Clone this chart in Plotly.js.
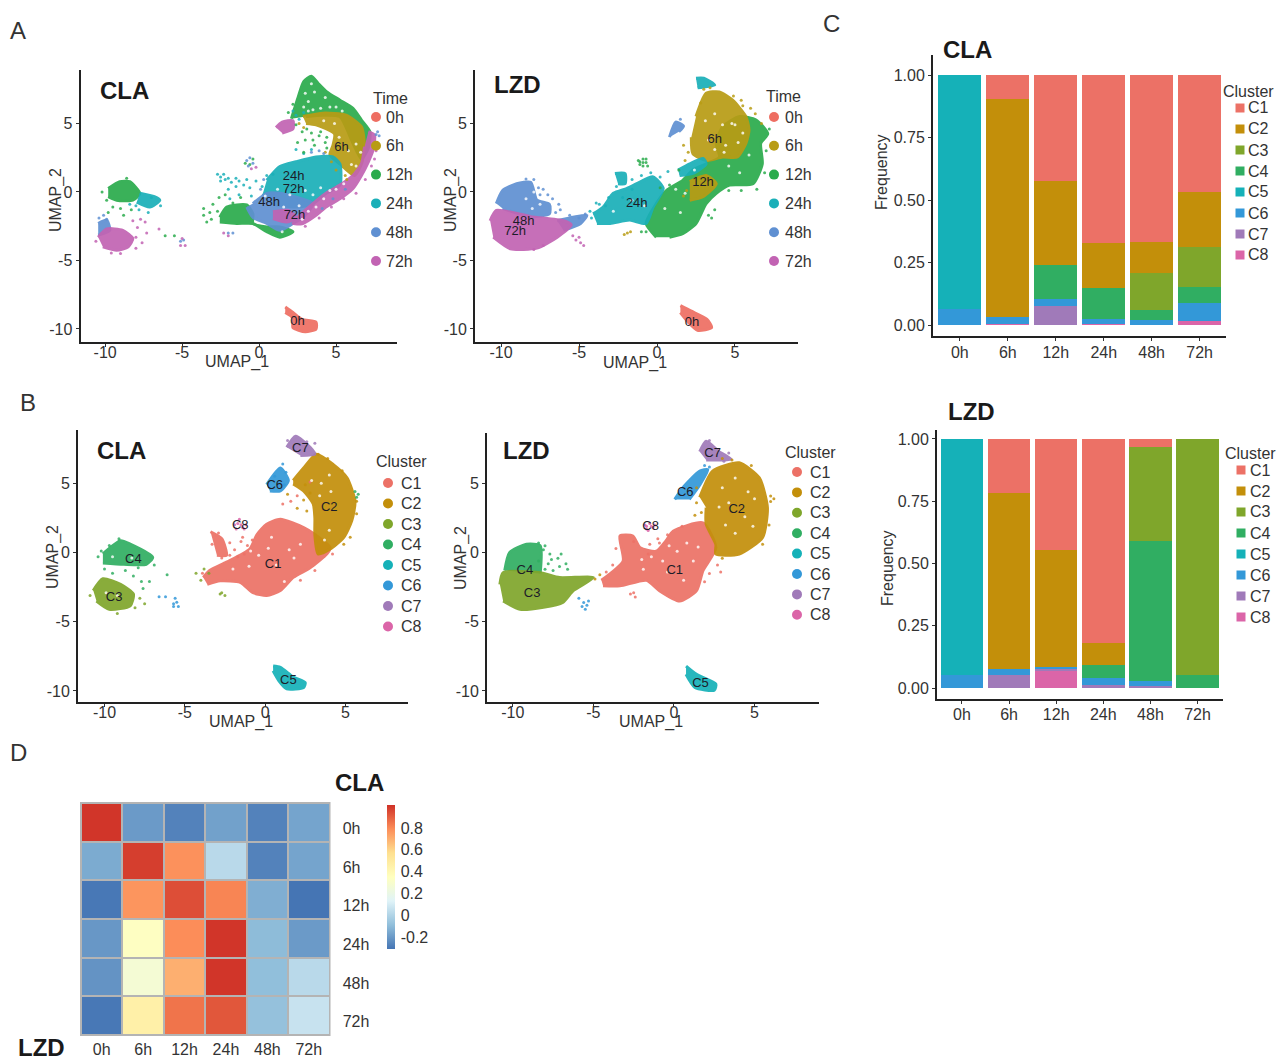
<!DOCTYPE html>
<html><head><meta charset="utf-8">
<script src="https://cdn.plot.ly/plotly-3.0.1.min.js"></script>
<style>html,body{margin:0;padding:0;background:#fff}#chart{width:1279px;height:1058px}</style>
</head><body><div id="chart"></div>
<script>
// ---------- categories ----------
const timeLabels=['0h','6h','12h','24h','48h','72h'];
const clusterLabels=['C1','C2','C3','C4','C5','C6','C7','C8'];
const timeColors={'0h':'#ee6e62','6h':'#b89c14','12h':'#2aab4c','24h':'#1aafb8','48h':'#5f90d2','72h':'#c263b3'};
const clusterColors={C1:'#ec7166',C2:'#c38f0a',C3:'#7fa62b',C4:'#30ae62',C5:'#15b1b8',C6:'#3398d8',C7:'#a07ab9',C8:'#db65a8'};

// ---------- stacked frequencies (panel C) ----------
const claFreq={C8:[0,.003,0,.005,.002,.016],C7:[0,0,.077,0,0,0],C6:[.063,.03,.026,.018,.018,.073],C5:[.937,0,0,0,0,0],
 C4:[0,0,.138,.126,.039,.063],C3:[0,0,0,0,.15,.159],C2:[0,.871,.336,.178,.122,.221],C1:[0,.096,.423,.673,.669,.468]};
const lzdFreq={C8:[0,0,.067,0,0,0],C7:[0,.054,.008,.013,.007,0],C6:[.051,.021,.01,.027,.023,0],C5:[.949,0,0,0,0,0],
 C4:[0,0,0,.054,.56,.051],C3:[0,0,0,0,.379,.949],C2:[0,.71,.471,.085,0,0],C1:[0,.215,.444,.821,.031,0]};

// ---------- correlation matrix (panel D), rows LZD, columns CLA ----------
const corrMatrix=[[1,-.2,-.27,-.18,-.27,-.17],[-.15,.98,.78,.02,-.27,-.17],[-.3,.77,.94,.81,-.14,-.31],
 [-.21,.34,.79,1,-.1,-.2],[-.22,.27,.7,1,-.09,.02],[-.3,.46,.85,.92,-.08,.06]];
const corrScale=[[0,'#4575b4'],[1/6,'#91bfdb'],[2/6,'#e0f3f8'],[3/6,'#ffffbf'],[4/6,'#fee090'],[5/6,'#fc8d59'],[1,'#cf3127']];
const umapTicks=[-10,-5,0,5], umapTickText=['-10','-5','0','5'];

// ---------- UMAP regions: [colour key, outline] ----------
const aClaRegions=[
['12h',[[2.1,5.35],[2.55,6.95],[2.9,8.05],[3.4,8.45],[3.85,7.9],[4.4,7.3],[5.25,6.7],[6.1,6.1],[6.65,5.25],[7.2,4.4],[7.1,3.2],[6.65,2.4],[6.1,3.55],[5.25,5.5],[4.15,5.6],[3.05,5.5]]],
['6h',[[2.85,5.5],[4.15,5.75],[5.65,5.6],[6.65,4.75],[6.85,3.3],[6.65,2.05],[6.2,1.2],[5.25,2.05],[4.6,2.7],[4.8,3.4],[4.9,4.25],[3.7,4.9],[3.05,5]]],
['24h',[[.5,.85],[1.35,1.85],[2.4,2.2],[3.7,2.55],[4.8,2.55],[5.25,2.05],[5.25,.5],[4.35,-.1],[3.5,-.85],[2.65,-1.1],[.9,-.85],[.25,-.1]]],
['12h',[[-2.55,-1.85],[-2.1,-1.1],[-.8,-.95],[-.4,-1.6],[-.4,-2.3],[.5,-2.55],[1.35,-2.55],[2.2,-2.9],[1.35,-3.3],[.5,-2.9],[-.4,-2.3],[-1.45,-2.3],[-2.55,-2.2]]],
['48h',[[-.4,-.85],[.5,-.1],[1.35,-.1],[3.5,-.85],[2.85,-1.85],[2.2,-2.3],[1.35,-2.8],[.5,-2.3],[-.4,-1.85],[-.8,-1.1]]],
['72h',[[7.1,4.4],[7.5,4.15],[7.4,3.05],[7.1,2.2],[6.65,1.2],[6.1,.25],[5.25,-.5],[4.35,-1.1],[3.7,-1.7],[2.85,-2.3],[2.2,-2.3],[2.65,-1.7],[3.5,-.85],[4.35,-.1],[5.25,.5],[6.1,1.2],[6.65,2.05],[6.85,3.3]]],
['72h',[[.9,-1.45],[1.9,-1.35],[2.4,-1.85],[1.8,-2.2],[.9,-1.95]]],
['72h',[[1.1,4.7],[1.5,5.1],[2.2,5.2],[2.2,4.6],[1.5,4.3]]],
['12h',[[-9.8,.25],[-9.05,.75],[-8.4,.75],[-7.75,-.1],[-8.2,-.6],[-9.25,-.6],[-9.8,-.35]]],
['24h',[[-7.75,-.1],[-6.8,-.35],[-6.45,-.6],[-7.1,-1.1],[-7.95,-.75]]],
['48h',[[-10.45,-2.3],[-9.9,-2.05],[-9.7,-2.8],[-10.45,-3.15]]],
['72h',[[-10.45,-3.3],[-9.9,-2.7],[-8.85,-2.8],[-8.2,-3.4],[-8.5,-4],[-9.25,-4.25],[-10.15,-4]]],
['0h',[[1.7,-8.4],[2.2,-8.8],[2.8,-9.3],[3.7,-9.5],[3.7,-10.0],[3.0,-10.2],[2.2,-9.9],[2.2,-9.2],[1.7,-8.8]]]];
const aLzdRegions=[
['12h',[[-.05,-3.3],[-.7,-2.3],[-.05,-.85],[.6,.1],[1.65,.85],[2.3,1.6],[3.15,2.05],[4,2.55],[3.8,3.55],[4.2,4.75],[5.3,5.5],[6.35,5.25],[7.1,4.25],[6.65,3.55],[6.75,2.05],[6.15,.6],[4.65,.5],[3.8,-.1],[3.15,-.85],[2.5,-2.3],[1.65,-3.05],[.8,-3.3]]],
['6h',[[2.5,5.5],[3.15,7.2],[4,7.3],[4.85,6.7],[5.7,5.5],[5.9,4.5],[5.7,3.55],[5.15,2.55],[4.2,2.55],[3.15,2.3],[2.3,2.8],[2.2,4]]],
['6h',[[2.1,.75],[3.15,1.2],[3.8,.6],[2.95,-.35],[2.1,-.6]]],
['24h',[[-4.1,-1.6],[-3.45,-1.1],[-2.8,-.1],[-1.95,.25],[-1.3,.6],[-.25,1.1],[.4,.25],[-.25,-1.1],[-.7,-2.3],[-1.75,-2.05],[-3,-2.3],[-3.85,-2.3]]],
['24h',[[-2.7,1.35],[-2.05,1.35],[-2.05,.6],[-2.5,.6]]],
['24h',[[1.35,1.6],[2.1,2.05],[2.95,2.45],[3.15,2.05],[2.3,1.35],[1.45,1.2]]],
['24h',[[2.5,8.3],[3.0,8.3],[3.7,7.8],[3.2,7.7],[2.6,7.6]]],
['48h',[[.8,4],[1.2,5.1],[1.7,4.8],[1.4,4.4]]],
['48h',[[-10.3,-.85],[-9.9,.1],[-9,.6],[-8.1,.7],[-7.7,-.6],[-6.9,-.9],[-6.9,-1.6],[-8.1,-1.8],[-9.9,-1.2]]],
['48h',[[-6.4,-2.1],[-4.5,-1.7],[-4.9,-2.3],[-6,-2.8]]],
['72h',[[-10.7,-2.1],[-10.3,-1.35],[-8.1,-1.8],[-6,-2.1],[-5.5,-2.4],[-6.4,-3.3],[-7.7,-4.1],[-9.4,-4.15],[-10.5,-3.3]]],
['0h',[[1.5,-8.3],[2.2,-8.7],[3.2,-9.3],[3.5,-9.9],[2.6,-10.1],[2.0,-9.5],[1.5,-8.8]]]];
const bClaRegions=[
['C1',[[-3.85,-1.8],[-3.45,-1.3],[-2.4,-.7],[-.95,.25],[-.5,1.3],[.1,2.05],[.95,2.4],[2.4,1.8],[3.1,1.3],[4.05,.35],[3.85,-.1],[2.8,-1.1],[1.75,-1.8],[.95,-2.75],[.1,-3.1],[-.75,-2.9],[-1.55,-2.15],[-2.8,-2.05],[-3.6,-2.3]]],
['C1',[[-3.4,1.5],[-2.7,1],[-2.4,-.2],[-3,-.2]]],
['C2',[[1.75,5.2],[2.4,6.1],[3.2,7.1],[4.25,6.35],[5.1,5.4],[5.6,3.7],[5.4,2.3],[4.9,1.1],[4.05,.25],[3.3,-.1],[3.1,1.3],[3.1,2.5],[3,3.5],[2.4,4.45],[1.75,4.95]]],
['C7',[[1.35,7.6],[1.9,8.4],[2.8,7.6],[3.1,7.1],[2.2,7.0]]],
['C6',[[.1,4.9],[.95,6.1],[1.45,5.2],[.95,4.45],[.3,4.45]]],
['C4',[[-10.1,-.1],[-9,.85],[-8.4,.6],[-7,-.35],[-7.4,-.85],[-8.8,-.85],[-10.1,-.75]]],
['C3',[[-10.7,-2.75],[-10.1,-1.9],[-9,-2.3],[-8.2,-3],[-8.4,-3.85],[-9.7,-4.1],[-10.5,-3.5]]],
['C5',[[.5,-8.2],[.95,-8.3],[1.75,-9],[2.5,-9.4],[2.4,-9.75],[1.35,-9.85],[.85,-9.25],[.5,-8.55]]]];
const bLzdRegions=[
['C1',[[-4.5,-2],[-3.15,-.6],[-3.35,1.2],[-2.55,1.2],[-2.1,.35],[-1.1,.1],[-.5,.85],[-.05,1.55],[1.8,2.15],[2.6,.35],[1.8,-1.3],[1.4,-2.75],[.35,-3.5],[-.9,-2.75],[-1.7,-2],[-3.35,-2.4],[-4.4,-2.4]]],
['C2',[[1.6,4],[2.4,5.9],[4.05,6.5],[5.3,5.4],[5.8,3.25],[5.5,1.1],[4.05,-.1],[2.6,-.1],[2.6,.6],[2,2.05],[2,3.25]]],
['C4',[[-10.5,-1.3],[-10.2,0],[-9.15,.6],[-8.3,.5],[-8.3,-1.5]]],
['C3',[[-10.8,-2.3],[-10.6,-1.45],[-8.3,-1.45],[-7.1,-1.8],[-5,-1.8],[-6.25,-2.75],[-6.9,-3.6],[-8.1,-3.95],[-9.55,-4.1],[-10.6,-3.5]]],
['C7',[[1.6,7.3],[2,8.05],[2.8,7.3],[3.55,6.75],[2.6,6.7],[2,6.7]]],
['C6',[[.05,3.85],[.55,4.7],[1.6,5.9],[2.1,6],[1.6,4.9],[.95,3.85]]],
['C5',[[.75,-8.2],[1.4,-8.8],[2.6,-9.5],[2.5,-9.95],[1.3,-9.75],[.75,-8.8]]]];

// ---------- scattered cells: [colour key, points] ----------
const aClaSpecks=[
['24h',[[-2.7,1.3],[-2.5,1.1],[-2.3,1.3],[-2.2,.9],[-2.5,.8],[-2,1],[-1.8,.7],[-1.5,1],[-1.3,.8],[-1,.5],[-1.5,.4],[-2,.2],[-.8,.9],[-.6,.3],[-1.3,-.2],[-1.9,-.5],[-.5,-.3],[.2,.4],[-.2,.8],[2.4,5.6],[2.2,5.9],[2.6,5.3],[2.9,5.8],[-8.4,-.9],[-7.8,-1.3],[-7.2,-1.5],[-7,-.4],[-8,-1],[-6.4,-1],[2.4,3.1],[2.9,2.8],[3.4,3.1],[.9,1.3],[.5,1.2]]],
['12h',[[-3.6,-1.2],[-3.6,-1.7],[-3.4,-2.2],[-3.2,-1.5],[-3.1,-2],[-2.7,-1.4],[-3,-.9],[-2.6,-.4],[-2.2,-.2],[-1.7,-.8],[-1.2,-.4],[-9.5,-1.1],[-9,-1.2],[-9.8,-1.5],[-8.8,-1.7],[-8.3,-1.3],[-5.5,-3.2],[-6.1,-3.2],[-.6,2],[-.9,2.1],[-.4,2.4],[3.4,4.3],[3.9,4.1],[3,3.8],[4.3,3.6],[3.6,3.4],[2.8,4.4],[2.5,3.6],[3.1,4.6],[3.5,3.8],[4,4.4],[4.4,4],[2.9,2.9],[4.4,3.2],[-9.9,-.6],[-10.2,0],[-8.6,1],[2.4,4.9],[1.9,5.8],[2.2,6.4]]],
['6h',[[5.6,1.2],[5,1.6],[5.7,.9],[4.3,2.9],[4.7,2.2],[2.6,5],[2.9,4.7]]],
['48h',[[-.8,2.3],[-.6,2.5],[-.4,2.1],[-.7,1.9],[-5.1,-3.6],[-4.9,-3.5],[-10.4,-1.9],[-10.1,-1.7],[-9.9,-2],[7.6,4.2],[7.8,4.1],[7.7,4.4],[-2,-3],[-1.7,-3],[3.9,3],[3.4,2.9],[4.2,2.8],[5.6,.2],[4.8,-.5],[4.1,-1.2],[.3,.9],[.1,.2]]],
['72h',[[-5,-3.4],[-4.8,-3.9],[-5.1,-3.9],[-.5,1.7],[-.2,1.8],[-8.2,-2.1],[-7.7,-2],[-7.4,-2.2],[-7.9,-2.6],[-7.3,-3],[-8,-3.3],[-7.6,-3.7],[-2.3,-3],[-2,-3.2],[-6.5,-2.7],[7.3,1.9],[6.9,.9],[6.3,-.1],[5.5,-.5],[4.7,-1.1],[3.9,-1.9],[3,-2.5],[7.6,3],[7.5,2.4],[-10.6,-3.6],[-8,-4.1],[-9,-4.5],[-9.6,-4.45]]],
['white',[[3.5,6],[4,6.1],[4.6,6.2],[3.2,6.6],[3,7.2],[3.6,7.3],[4.3,6.9],[5,6.2],[5.4,5.9],[4.2,5.2],[4.9,5],[6.3,3.5],[5.8,3],[6,2],[5.2,4],[1.2,.2],[2,-.2],[3,.1],[3.5,-.2],[4,.3],[2.6,-1],[1.6,-1.1],[.4,-.3],[4.6,.1],[5,.2],[3.2,-1.4],[4.2,-.5],[5.5,.6],[3.7,-1.1],[2.8,-2],[1.5,-2.9],[6.3,1.9],[6.6,2.9],[3.4,7.9],[2.9,6.2],[3.2,5.9]]]];
const aLzdSpecks=[
['24h',[[-2.6,.4],[-2.2,-.4],[-1.6,.9],[-1,1.2],[-.4,1.4],[.2,1.1],[.7,1.5],[-1.6,.2],[-3.7,-.9],[-3.3,-1.0],[-4.2,-1.9],[-4.3,-1.4],[-3.9,-.8],[-3.1,-.4]]],
['12h',[[.8,.5],[1.4,1.6],[.2,.3],[3.3,-1.7],[3.7,-1.3],[3.5,-1.9],[-.9,2.4],[-1.1,2.2],[-.9,1.9],[-.7,2.15],[-.9,2.15],[-1.1,2],[-.7,2.4],[-1.2,2.3],[-.6,1.9],[7.2,4.6],[7,3],[6.9,1.4],[6.4,.2],[5.4,.1],[4.6,.1],[-1,-2.9],[-.7,-2.9]]],
['48h',[[-7.3,.2],[-7,-.2],[-7.6,.3],[-6.7,-.5],[-6.3,-.9],[-6.5,-1.5],[-5.6,-1.7],[-5,-1.9],[-4.6,-1.6],[1.5,5.3],[-8.4,.95],[-7.9,.9],[-7.5,-.2],[-6.2,-1.3]]],
['6h',[[-1.9,-3],[-2.1,-3.1],[-1.7,-2.9],[2.8,6.5],[3.4,7.6],[3,7.5],[1.7,3.4],[2,2.9],[1.8,2.3],[6.7,5],[6,6.1],[5.5,6.3],[4.9,7],[5.4,6.7],[6.3,5.7],[1.9,.1],[1.7,-.3]]],
['72h',[[-5.2,-3.5],[-5,-3.3],[-4.9,-3.7],[-5.4,-3.2],[-4.7,-3.9],[-7.9,-4.2],[-7.3,-3.9]]],
['white',[[4.2,4.9],[3.3,3.8],[4.4,3.4],[5.2,3.6],[3.1,5.2],[5.5,4.3],[3.7,5.7],[4.8,5],[4.3,2.9],[5.9,2.7],[5.3,1.4],[4.6,1.9],[2.4,1.6],[1.2,.2],[.5,-1.2],[1.5,-1.5],[-.8,-1],[-1.6,-.6],[-2.8,-1.4],[1.8,-.1],[3.7,3.1],[5,4.9],[-7.9,0],[-7.5,-.9],[-8,-1.2],[-8.4,-.5]]]];
const bClaSpecks=[
['C1',[[-2.9,1.4],[-2.2,.7],[-1.9,.2],[-1.5,.8],[-1.1,.5],[-.8,.9],[-1.4,1.1],[-3.3,.6],[-1.7,-.3],[-2.2,-.2],[2.8,5.1],[2,4.1],[1.6,3.7],[1.1,3.5],[-1.3,-.1],[-2.7,-.4],[-3.9,-1.5],[3.1,-1.3],[2.2,-2],[4.2,-.1]]],
['C2',[[1.4,4.2],[2,3.2],[2.4,3.8],[2.6,3],[3.3,7.1],[5.7,2.8],[5.3,1.1],[2.5,4.9],[2.8,4.3],[4.9,.6],[5.7,3.7],[4.8,5.9],[3.9,6.8]]],
['C3',[[-4.3,-1.5],[-4,-2],[-3.8,-1.2],[-3.5,-1.5],[-2.8,-3],[-2.5,-3.1],[-2.7,-2.9],[-7.8,-3.3],[-7.5,-3.7],[-10.9,-3.1],[-9.2,-4.4],[-8.1,-4]]],
['C4',[[-10,-1.2],[-9.5,-1.5],[-8.7,-1.3],[-8.2,-1.7],[-7.9,-1.1],[-7.7,-2.1],[-7.2,-2.1],[-7.6,-2.6],[-10.2,.1],[5.6,4.4],[5.8,4.2],[5.7,4],[-6.1,-1.6],[-9.7,.5],[-10.4,-.3],[-9.1,1],[-6.9,-.9]]],
['C6',[[-5.6,-3.3],[-5.7,-3.7],[-5.5,-3.6],[-5.4,-3.9],[-5.7,-3.9],[-6.2,-3.2],[-6.6,-3.2],[1.1,6.4],[1.3,5.8],[.6,5.5],[1.2,4.9]]],
['C8',[[-1.9,2],[-1.6,2.4],[-1.3,1.7],[-1.5,2],[-1.8,1.7],[-1.2,2],[-1.7,2.1],[-1.4,1.8]]],
['C7',[[3.1,7.9],[1.4,8.1],[2.6,8]]],
['white',[[.2,.3],[1.5,.2],[-.4,-.2],[.7,-.9],[1.8,-.4],[-1,-1],[.4,1.1],[2.2,.6],[-.9,.1],[3.5,5],[4.1,4.4],[3.4,4.1],[2.9,5.2],[4,5.6],[4,1.6],[3.7,.9],[-9.5,-.3],[-8.3,-.4],[-9.2,-3.1],[-9.9,-2.9],[1.2,-2.1],[-2,-1.2]]]];
const bLzdSpecks=[
['C1',[[-2.5,.8],[-1.5,.6],[-1,1],[-.4,1.3],[.5,1.9],[2.2,-1.5],[2.7,-.9],[2.9,-1.4],[-3.6,.3],[-2.7,-3],[-2.4,-3.2],[-2.5,-2.9],[-3.8,-.9],[-4.2,-1.4],[1.9,-2.1],[-1.6,-.1],[-.9,.7]]],
['C2',[[1.4,3.6],[1.7,2.9],[1.3,2.7],[6,3.7],[6.2,3.9],[6,4.1],[3,6.8],[3.6,6.7],[-4.6,-1.6],[-4.9,-1.9],[5.9,2],[5.5,.6],[4.8,6.3],[1.4,4.7],[3,-.4]]],
['C4',[[-8.1,.2],[-7.7,-.1],[-7.2,-.4],[-7.8,-.8],[-7.1,-1],[-6.7,-.8],[-7.5,-1.3],[-6.6,-1.2],[-8,-1.2],[-8.4,-.6],[-7,-.1],[-8.4,.7],[-8,.5],[-7.6,-.5]]],
['C6',[[-5.9,-3.3],[-5.6,-3.6],[-5.4,-3.8],[-5.7,-3.9],[-5.3,-3.5],[-5.5,-4.1],[2.2,6.2],[1.9,6.3]]],
['C8',[[-1.7,1.9],[-1.5,2.1],[-1.3,1.8],[-1.6,1.6],[-1.2,2],[-1.4,1.9],[-1.7,1.7],[-1.8,2]]],
['C7',[[2.2,8.1],[3.1,6.6],[3.4,7.2]]],
['white',[[-2,-.5],[-1.4,-.3],[-.7,-.6],[.2,.1],[-.4,-1.4],[.8,.7],[1.5,.4],[-1.9,-1.2],[.6,-2],[1.2,-.6],[-.3,.5],[3,4.7],[3.8,5.4],[4.6,4.4],[3.4,3.6],[4.4,2.6],[5,3.9],[2.8,3.3],[3.8,1.4],[4.9,1.9],[3.2,2],[-8,-.7],[-7.4,-.7]]]];

// ---------- text labels placed on the clusters ----------
const aClaText={x:[5.35,2.25,2.25,.65,2.3,2.5],y:[3.2,1.1,.15,-.8,-1.7,-9.45],t:['6h','24h','72h','48h','72h','0h']};
const aLzdText={x:[3.7,2.95,-1.3,-8.55,-9.1,2.25],y:[3.8,.65,-.85,-2.15,-2.9,-9.55],t:['6h','12h','24h','48h','72h','0h']};
const bClaText={x:[2.2,.6,4,-1.55,.5,-8.2,-9.4,1.45],y:[7.5,4.85,3.2,1.9,-.85,-.5,-3.3,-9.3],t:['C7','C6','C2','C8','C1','C4','C3','C5']};
const bLzdText={x:[2.4,.7,3.9,-1.45,.05,-9.25,-8.8,1.65],y:[7.15,4.3,3.1,1.85,-1.3,-1.3,-3,-9.5],t:['C7','C6','C2','C8','C1','C4','C3','C5']};

// ---------- page helpers ----------
const W=1279,H=1058,FONT='"Liberation Sans",Arial,sans-serif',INK='#333333';
const px=x=>x/W, py=y=>1-y/H;
const traces=[],annotations=[],shapes=[];
const allColors=Object.assign({white:'#ffffff'},timeColors,clusterColors);

function umapPanel(n,regions,specks,labels){
  const xa='x'+(n===1?'':n), ya='y'+(n===1?'':n);
  regions.forEach(([k,poly])=>traces.push({type:'scatter',mode:'lines',xaxis:xa,yaxis:ya,showlegend:false,hoverinfo:'skip',
    x:poly.map(p=>p[0]),y:poly.map(p=>p[1]),fill:'toself',fillcolor:allColors[k],opacity:.92,
    line:{color:allColors[k],width:3,shape:'spline',smoothing:.6}}));
  specks.forEach(([k,pts])=>traces.push({type:'scatter',mode:'markers',xaxis:xa,yaxis:ya,showlegend:false,hoverinfo:'skip',
    x:pts.map(p=>p[0]),y:pts.map(p=>p[1]),marker:{color:allColors[k],size:3,opacity:k==='white'?.8:.85}}));
  traces.push({type:'scatter',mode:'text',xaxis:xa,yaxis:ya,showlegend:false,hoverinfo:'skip',x:labels.x,y:labels.y,text:labels.t,
    textposition:'middle center',textfont:{family:FONT,size:13,color:'#1c1c28'}});
}
umapPanel(1,aClaRegions,aClaSpecks,aClaText);
umapPanel(2,aLzdRegions,aLzdSpecks,aLzdText);
umapPanel(3,bClaRegions,bClaSpecks,bClaText);
umapPanel(4,bLzdRegions,bLzdSpecks,bLzdText);

function barPanel(n,freq){
  ['C8','C7','C6','C5','C4','C3','C2','C1'].forEach(c=>traces.push({type:'bar',xaxis:'x'+n,yaxis:'y'+n,name:c,showlegend:false,
    x:timeLabels,y:freq[c],width:.9,marker:{color:clusterColors[c],line:{width:0}}}));
}
barPanel(5,claFreq);
barPanel(6,lzdFreq);

traces.push({type:'heatmap',xaxis:'x7',yaxis:'y7',x:timeLabels,y:timeLabels,z:corrMatrix,xgap:2,ygap:2,zmin:-.31,zmax:1.01,colorscale:corrScale,
  colorbar:{thickness:8,thicknessmode:'pixels',len:144,lenmode:'pixels',x:px(387),xanchor:'left',xpad:0,ypad:0,y:py(805),yanchor:'top',
    tickvals:[-.2,0,.2,.4,.6,.8],ticktext:['-0.2','0','0.2','0.4','0.6','0.8'],ticks:'outside',ticklen:3,tickcolor:'rgba(0,0,0,0)',
    outlinewidth:0,tickfont:{family:FONT,size:16,color:INK}}});

// ---------- axes ----------
const layout={width:W,height:H,margin:{l:0,r:0,t:0,b:0},paper_bgcolor:'#fff',plot_bgcolor:'rgba(0,0,0,0)',barmode:'stack',showlegend:false,
  font:{family:FONT,size:16,color:INK}};
function axes(n,box,xr,yr,extraX,extraY){
  const s=n===1?'':n;
  const common={showgrid:false,zeroline:false,showline:true,linecolor:'#222',linewidth:2,ticks:'outside',ticklen:3,tickwidth:1,tickcolor:'#333',
    tickfont:{family:FONT,size:16,color:INK}};
  layout['xaxis'+s]=Object.assign({},common,{domain:[px(box[0]),px(box[2])],range:xr,anchor:'y'+s},extraX);
  layout['yaxis'+s]=Object.assign({},common,{domain:[py(box[3]),py(box[1])],range:yr,anchor:'x'+s},extraY);
}
const umapX={tickvals:umapTicks,ticktext:umapTickText,ticklabelstandoff:-8}, umapY={tickvals:umapTicks,ticktext:umapTickText};
axes(1,[80.5,70,397,342],[-11.6,8.96],[-10.95,8.9],umapX,umapY);
axes(2,[475,70,798,342],[-11.67,9.04],[-10.95,8.9],umapX,umapY);
axes(3,[78,430,408,702],[-11.65,8.9],[-10.8,8.85],umapX,umapY);
axes(4,[487,433,819,702],[-11.6,9],[-10.8,8.65],umapX,umapY);
const catX={type:'category',categoryorder:'array',categoryarray:timeLabels};
const freqY={tickvals:[0,.25,.5,.75,1],tickformat:'.2f'};
axes(5,[933,55,1226,336],[-.56,5.55],[-.044,1.08],Object.assign({ticklabelstandoff:-2},catX),freqY);
axes(6,[937,430,1223,699],[-.53,5.54],[-.044,1.036],Object.assign({ticklabelstandoff:-3},catX),freqY);
axes(7,[81,803,329.5,1035],[-.5,5.5],[5.5,-.5],
  Object.assign({},catX,{showline:false,ticks:'outside',ticklen:0,tickcolor:'rgba(0,0,0,0)',ticklabelstandoff:0}),
  {type:'category',categoryorder:'array',categoryarray:timeLabels,side:'right',showline:false,ticks:'outside',ticklen:9,tickcolor:'rgba(0,0,0,0)',ticklabelshift:-6});
shapes.push({type:'rect',xref:'paper',yref:'paper',layer:'below',x0:px(80),x1:px(330.5),y0:py(802),y1:py(1036),fillcolor:'#b4b4b4',line:{width:0}});

// ---------- text and hand-drawn keys ----------
function note(text,x,y,size,bold,anchor,angle){
  annotations.push({xref:'paper',yref:'paper',x:px(x),y:py(y),text:bold?'<b>'+text+'</b>':text,showarrow:false,
    xanchor:anchor||'left',yanchor:'middle',borderpad:0,borderwidth:0,textangle:angle||0,font:{family:FONT,size:size,color:bold?'#1a1a1a':INK}});
}
[['A',10,30],['B',20,402],['C',823,24],['D',10,752]].forEach(a=>note(a[0],a[1],a[2],24,false));
[['CLA',100,90],['LZD',494,85],['CLA',97,451],['LZD',503,450],['CLA',943,49],['LZD',948,412],['CLA',335,782],['LZD',18,1047]]
  .forEach(a=>note(a[0],a[1],a[2],24,true));
[[237,362],[635,363],[241,722],[651,722]].forEach(a=>note('UMAP_1',a[0],a[1],16,false,'center'));
[[56,200],[451,200],[53,557],[461,558]].forEach(a=>note('UMAP_2',a[0],a[1],16,false,'center',-90));
[[881,172],[887,568]].forEach(a=>note('Frequency',a[0],a[1],16,false,'center',-90));

function key(title,labels,colors,tx,ty,kx,lx,y0,dy,square){
  note(title,tx,ty,16);
  labels.forEach((l,i)=>{
    const y=y0+i*dy, r=square?4.5:5;
    shapes.push({type:square?'rect':'circle',xref:'paper',yref:'paper',x0:px(kx-r),x1:px(kx+r),y0:py(y+r),y1:py(y-r),fillcolor:colors[l],line:{width:0}});
    note(l,lx,y,16);
  });
}
key('Time',timeLabels,timeColors,373,98,376,386,117,28.8);
key('Time',timeLabels,timeColors,766,97,774,785,117,28.8);
key('Cluster',clusterLabels,clusterColors,376,461,388,401,483,20.5);
key('Cluster',clusterLabels,clusterColors,785,452,797,810,472,20.4);
key('Cluster',clusterLabels,clusterColors,1223,91,1240,1248,108,21,true);
key('Cluster',clusterLabels,clusterColors,1225,453,1241,1250,470,21,true);
layout.annotations=annotations;layout.shapes=shapes;
Plotly.newPlot('chart',traces,layout,{displayModeBar:false,staticPlot:true});
</script></body></html>
